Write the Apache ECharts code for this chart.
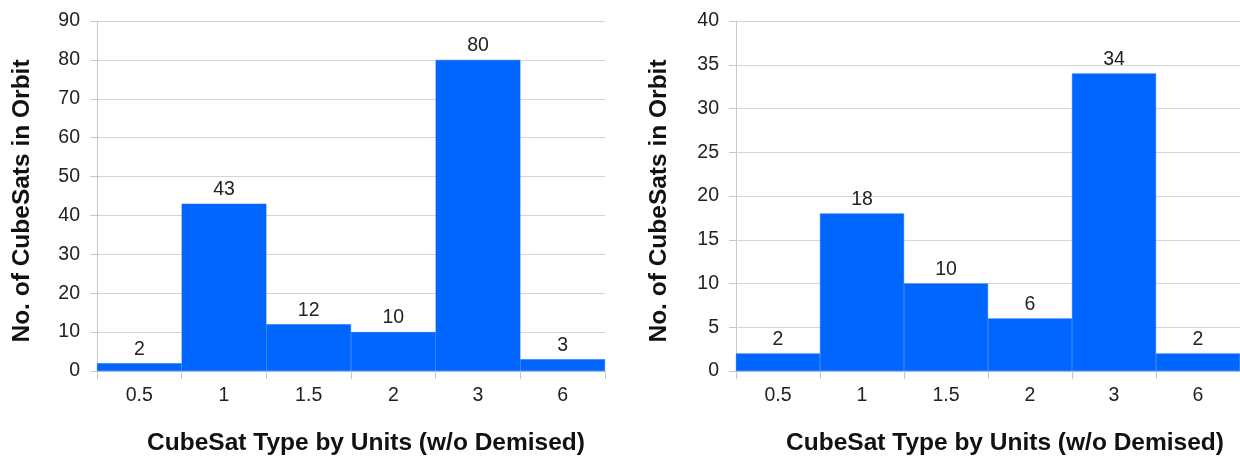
<!DOCTYPE html>
<html><head><meta charset="utf-8">
<script src="https://cdn.jsdelivr.net/npm/echarts@6/dist/echarts.min.js"></script>
<style>html,body{margin:0;padding:0;background:#fff}#c{width:1240px;height:461px}</style>
</head><body><div id="c"></div>
<script>
const categories = ['0.5', '1', '1.5', '2', '3', '6'];
const leftValues = [2, 43, 12, 10, 80, 3];
const rightValues = [2, 18, 10, 6, 34, 2];
const yName = 'No. of CubeSats in Orbit';
const xName = 'CubeSat Type by Units (w/o Demised)';

const font = 'Liberation Sans, Arial, sans-serif';
const blue = '#0066FF';
const chart = echarts.init(document.getElementById('c'));
function xAx(i){return {gridIndex:i,type:'category',data:categories,
  axisLine:{show:true,lineStyle:{color:'#c8c8c8'}},
  axisTick:{show:true,length:8,lineStyle:{color:'#c8c8c8'}},
  axisLabel:{color:'#222',fontSize:19.5,fontFamily:font,margin:15}};}
function yAx(i,max,interval){return {gridIndex:i,type:'value',min:0,max:max,interval:interval,
  axisLine:{show:true,lineStyle:{color:'#c8c8c8'}},
  axisTick:{show:true,length:7,lineStyle:{color:'#c8c8c8'}},
  splitLine:{lineStyle:{color:'#d4d4d4'}},
  axisLabel:{color:'#222',fontSize:19.5,fontFamily:font,margin:17}};}
function ser(i,data){return {type:'bar',xAxisIndex:i,yAxisIndex:i,data:data,barCategoryGap:'0%',
  itemStyle:{color:blue,borderColor:blue,borderWidth:0.5},
  label:{show:true,position:'top',color:'#222',fontSize:19.5,fontFamily:font,distance:4}};}
const nameStyle = {font:'bold 24.5px '+font, fill:'#111'};
chart.setOption({
  animation:false,
  grid:[{left:97,right:635,top:21,bottom:90},{left:736,right:0,top:21,bottom:90}],
  xAxis:[xAx(0),xAx(1)],
  yAxis:[yAx(0,90,10),yAx(1,40,5)],
  series:[ser(0,leftValues),ser(1,rightValues)],
  graphic:[
    {type:'text',x:366,y:443,style:Object.assign({text:xName,textAlign:'center',textVerticalAlign:'middle'},nameStyle)},
    {type:'text',x:1005,y:443,style:Object.assign({text:xName,textAlign:'center',textVerticalAlign:'middle'},nameStyle)},
    {type:'text',x:22,y:201,rotation:Math.PI/2,style:Object.assign({text:yName,textAlign:'center',textVerticalAlign:'middle'},nameStyle)},
    {type:'text',x:659,y:201,rotation:Math.PI/2,style:Object.assign({text:yName,textAlign:'center',textVerticalAlign:'middle'},nameStyle)}
  ]
});
</script></body></html>
